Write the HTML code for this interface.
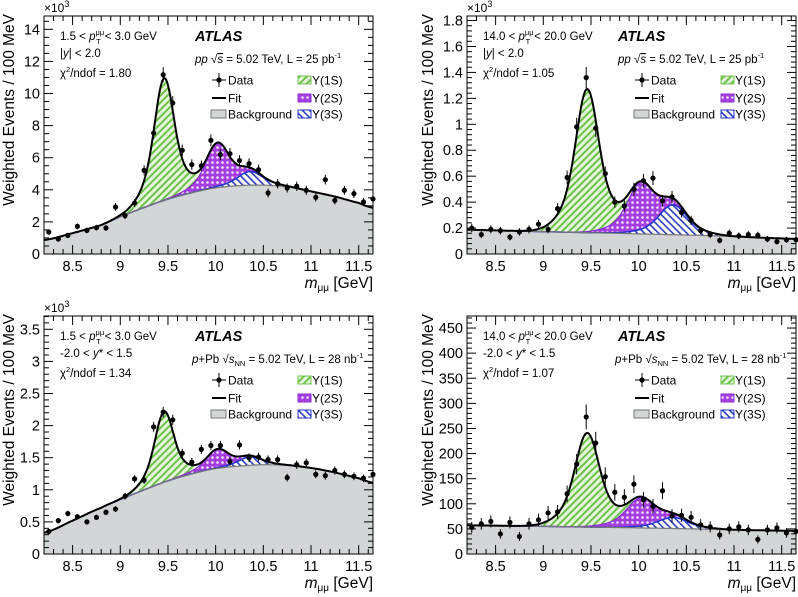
<!DOCTYPE html>
<html><head><meta charset="utf-8">
<style>
html,body{margin:0;padding:0;background:#fff;}
svg{display:block;font-family:"Liberation Sans",Arial,sans-serif;}
</style></head>
<body>
<svg id="chart" width="798" height="597" viewBox="0 0 798 597" xmlns="http://www.w3.org/2000/svg">
<defs>
<pattern id="hatch1" width="5" height="5" patternUnits="userSpaceOnUse" patternTransform="rotate(45)">
<rect width="5" height="5" fill="#e6f6dc"/><rect width="2" height="5" fill="#6cc24a"/></pattern>
<pattern id="hatch2" width="5" height="5" patternUnits="userSpaceOnUse">
<rect width="5" height="5" fill="#a53ee0"/><circle cx="2.5" cy="2.5" r="1.3" fill="#f3e6fb"/></pattern>
<pattern id="hatch3" width="5" height="5" patternUnits="userSpaceOnUse" patternTransform="rotate(-45)">
<rect width="5" height="5" fill="#ffffff"/><rect width="1.6" height="5" fill="#2a3cc0"/></pattern>
</defs>
</svg>
<script>
// ---------- data ----------
const massCenters = [8.25,8.35,8.45,8.55,8.65,8.75,8.85,8.95,9.05,9.15,9.25,9.35,9.45,9.55,9.65,9.75,9.85,9.95,10.05,10.15,10.25,10.35,10.45,10.55,10.65,10.75,10.85,10.95,11.05,11.15,11.25,11.35,11.45,11.55,11.65];
const tlValues = [1.37,0.93,1.16,1.72,1.47,1.64,1.62,2.93,2.39,3.18,5.21,7.54,11.17,9.41,6.46,5.57,5.5,7.08,6.19,6.25,5.82,5.63,5.25,3.80,4.38,4.11,4.22,3.97,3.53,4.63,3.34,3.97,3.76,3.24,3.43];
const trValues = [0.20,0.15,0.19,0.18,0.13,0.17,0.19,0.23,0.19,0.35,0.59,0.98,1.36,0.97,0.62,0.40,0.37,0.50,0.565,0.585,0.41,0.44,0.32,0.26,0.18,0.15,0.105,0.16,0.14,0.15,0.145,0.115,0.095,0.11,0.11];
const blValues = [0.35,0.52,0.63,0.58,0.50,0.57,0.65,0.70,0.90,1.17,1.15,1.98,2.21,2.09,1.57,1.43,1.63,1.69,1.69,1.44,1.70,1.50,1.51,1.47,1.47,1.19,1.39,1.42,1.24,1.22,1.30,1.24,1.21,1.18,1.24];
const brValues = [53,60,65,40,63,35,60,68,82,84,120,179,273,221,154,123,113,139,108,95,126,76,77,73,58,54,38,50,54,48,29,48,52,42,45];
const bgKnots = [8.2,8.5,8.8,9.0,9.25,9.5,9.75,10.0,10.25,10.5,10.75,11.0,11.25,11.5,11.65];
const tlBackground = [0.87,1.3,1.8,2.33,2.9,3.42,3.82,4.12,4.26,4.29,4.18,3.9,3.58,3.18,2.88];
const trBackground = [0.187,0.182,0.176,0.172,0.168,0.164,0.16,0.155,0.151,0.146,0.141,0.134,0.127,0.12,0.116];
const blBackground = [0.33,0.52,0.72,0.85,1.0,1.14,1.25,1.33,1.37,1.39,1.38,1.34,1.27,1.18,1.11];
const brBackground = [57,56.5,55.5,55,54.3,53.6,52.8,52,51.2,50.3,49.3,48,47.3,46.5,46];
const peakMeans = [9.46,10.02,10.36];
const tlPeaks = [7.6,2.7,0.85];
const trPeaks = [1.1,0.36,0.23];
const blPeaks = [1.1,0.29,0.13];
const brPeaks = [186,56,22];
const tlYTicks = ["0","2","4","6","8","10","12","14"];
const trYTicks = ["0","0.2","0.4","0.6","0.8","1","1.2","1.4","1.6","1.8"];
const blYTicks = ["0","0.5","1","1.5","2","2.5","3","3.5"];
const brYTicks = ["0","50","100","150","200","250","300","350","400","450"];
const xTickLabels = ["8.5","9","9.5","10","10.5","11","11.5"];

// ---------- drawing ----------
const svg = document.getElementById('chart');
const NS = 'http://www.w3.org/2000/svg';
function mk(tag, attrs, parent){const e=document.createElementNS(NS,tag);for(const k in attrs)e.setAttribute(k,attrs[k]);(parent||svg).appendChild(e);return e;}

const panels = [
 {id:'pp-low-pt',L:44,R:373,T:16,B:254,ymax:14.83,ytick:2,minor:0.5,ticks:tlYTicks,vals:tlValues,bg:tlBackground,pk:tlPeaks,sig:0.09,err:0.14,
  l1:['1.5 < ','3.0 GeV'],l2:'|y| < 2.0',chi:'1.80',pp:true},
 {id:'pp-high-pt',L:467,R:796,T:16,B:254,ymax:1.835,ytick:0.2,minor:0.04,ticks:trYTicks,vals:trValues,bg:trBackground,pk:trPeaks,sig:0.105,err:0.07,
  l1:['14.0 < ','20.0 GeV'],l2:'|y| < 2.0',chi:'1.05',pp:true},
 {id:'ppb-low-pt',L:44,R:373,T:316,B:554,ymax:3.707,ytick:0.5,minor:0.1,ticks:blYTicks,vals:blValues,bg:blBackground,pk:blPeaks,sig:0.085,err:0.055,
  l1:['1.5 < ','3.0 GeV'],l2:'ystar',chi:'1.34',pp:false},
 {id:'ppb-high-pt',L:467,R:796,T:316,B:554,ymax:474,ytick:50,minor:10,ticks:brYTicks,vals:brValues,bg:brBackground,pk:brPeaks,sig:0.11,err:1.5,
  l1:['14.0 < ','20.0 GeV'],l2:'ystar',chi:'1.07',pp:false}
];
const XMIN=8.2, XMAX=11.65;
const widthRatio=[1,1.15,1.2];

function bgAt(P,x){
  const k=bgKnots, v=P.bg; let i=0;
  while(i<k.length-2 && x>k[i+1]) i++;
  const t=(x-k[i])/(k[i+1]-k[i]);
  const p0=v[Math.max(i-1,0)],p1=v[i],p2=v[i+1],p3=v[Math.min(i+2,v.length-1)];
  return 0.5*((2*p1)+(-p0+p2)*t+(2*p0-5*p1+4*p2-p3)*t*t+(-p0+3*p1-3*p2+p3)*t*t*t);
}
function peakAt(P,j,x){
  const s=P.sig*widthRatio[j], d=(x-peakMeans[j])/s;
  return P.pk[j]*(0.65*Math.exp(-0.5*d*d)+0.35*Math.exp(-0.5*d*d/4));
}

panels.forEach(P=>{
  const g=mk('g',{});
  
  
  const xs=x=>P.L+(x-XMIN)/(XMAX-XMIN)*(P.R-P.L);
  const ys=y=>P.B-y/P.ymax*(P.B-P.T);
  const N=200, grid=[];
  for(let i=0;i<=N;i++) grid.push(XMIN+(XMAX-XMIN)*i/N);
  const layer=(fn)=>grid.map(x=>[xs(x),ys(fn(x))]);
  const area=(top,fill,name)=>{
    const pts=layer(top);
    let d='M'+xs(XMIN)+','+P.B+' '+pts.map(p=>'L'+p[0].toFixed(1)+','+p[1].toFixed(1)).join(' ')+' L'+xs(XMAX)+','+P.B+'Z';
    const e=mk('path',{d:d,fill:fill},g);
    
    
    return pts;
  };
  const f0=x=>bgAt(P,x);
  const f3=x=>f0(x)+peakAt(P,2,x);
  const f2=x=>f3(x)+peakAt(P,1,x);
  const f1=x=>f2(x)+peakAt(P,0,x);
  area(f1,'url(#hatch1)','upsilon-1s-area');
  area(f2,'url(#hatch2)','upsilon-2s-area');
  area(f3,'url(#hatch3)','upsilon-3s-area');
  const bgPts=area(f0,'#d3d6d6','background-area');
  const line=(pts,stroke,w,name)=>{const e=mk('polyline',{points:pts.map(p=>p[0].toFixed(1)+','+p[1].toFixed(1)).join(' '),fill:'none',stroke:stroke,'stroke-width':w},g);
    
    };
  line(layer(f3),'#2233cc',1.5,'upsilon-3s-line');
  line(layer(f2),'#8a2bd0',1.2,'upsilon-2s-line');
  line(bgPts,'#777',1.2,'background-line');
  line(layer(f1),'#000',2,'fit-line');
  P.vals.forEach((v,i)=>{
    const cx=xs(massCenters[i]), cy=ys(v), e=P.err*Math.sqrt(v);
    const pg=mk('g',{},g);
    
    
    mk('line',{x1:cx,x2:cx,y1:ys(v+e),y2:ys(Math.max(v-e,0)),stroke:'#000','stroke-width':1},pg);
    mk('circle',{cx:cx,cy:cy,r:2.6,fill:'#000'},pg);
  });
  const fr=mk('rect',{x:P.L,y:P.T,width:P.R-P.L,height:P.B-P.T,fill:'none',stroke:'#000','stroke-width':1},g);
  
  
  for(let k=0;k<=35;k++){
    const xv=8.2+k*0.1; if(xv>XMAX+1e-6) break;
    const major=Math.abs(xv*2-Math.round(xv*2))<1e-6;
    const len=major?9:5, X=xs(xv);
    mk('line',{x1:X,x2:X,y1:P.B,y2:P.B-len,stroke:'#000','stroke-width':1},g);
    mk('line',{x1:X,x2:X,y1:P.T,y2:P.T+len,stroke:'#000','stroke-width':1},g);
  }
  xTickLabels.forEach(l=>{
    const t=mk('text',{x:xs(parseFloat(l)),y:P.B+17,'text-anchor':'middle','font-size':14.5},g);
    t.textContent=l;
    
    
  });
  for(let yv=0; yv<=P.ymax+1e-9; yv+=P.minor){
    const major=Math.abs(yv/P.ytick-Math.round(yv/P.ytick))<1e-6;
    const len=major?9:5, Y=ys(yv);
    mk('line',{x1:P.L,x2:P.L+len,y1:Y,y2:Y,stroke:'#000','stroke-width':1},g);
    mk('line',{x1:P.R,x2:P.R-len,y1:Y,y2:Y,stroke:'#000','stroke-width':1},g);
  }
  P.ticks.forEach((l,i)=>{
    const t=mk('text',{x:P.L-4,y:ys(i*P.ytick)+5,'text-anchor':'end','font-size':14.5},g);
    t.textContent=l;
    
    
  });
  if(P.id!=='ppb-high-pt'){
    const ex=mk('text',{x:P.L,y:P.T-4,'font-size':12},g);
    ex.innerHTML='×10<tspan dy="-5" font-size="9">3</tspan>';
    
    
  }
  const yt=mk('text',{transform:`translate(${P.L-(P.L>400?34:30)},${P.T-2}) rotate(-90)`,'text-anchor':'end','font-size':15.5},g);
  yt.textContent='Weighted Events / 100 MeV';
  
  
  const xt=mk('text',{x:P.R,y:P.B+34,'text-anchor':'end','font-size':15.5},g);
  xt.innerHTML='<tspan font-style="italic">m</tspan><tspan font-size="10" dy="3">μμ</tspan><tspan dy="-3"> [GeV]</tspan>';
  
  
  const L=P.L, T=P.T;
  const i1=mk('text',{x:L+16,y:T+24,'font-size':11.5},g);
  i1.innerHTML=P.l1[0]+'<tspan font-style="italic">p</tspan><tspan font-size="7.5" dy="-5">μμ</tspan><tspan font-size="7.5" dx="-8" dy="9">T</tspan><tspan dy="-4" dx="4">&lt; '+P.l1[1]+'</tspan>';
  
  
  const i2=mk('text',{x:L+16,y:T+41,'font-size':11.5},g);
  i2.innerHTML=P.l2==='ystar'?'-2.0 &lt; <tspan font-style="italic">y</tspan>* &lt; 1.5':'|<tspan font-style="italic">y</tspan>| &lt; 2.0';
  
  
  const i3=mk('text',{x:L+16,y:T+61,'font-size':11.5},g);
  i3.innerHTML='χ<tspan font-size="7.5" dy="-5">2</tspan><tspan dy="5">/ndof = '+P.chi+'</tspan>';
  
  
  const at=mk('text',{x:L+151,y:T+25,'font-size':14.5,'font-weight':'bold','font-style':'italic'},g);
  at.textContent='ATLAS';
  
  
  const en=mk('text',{x:L+(P.pp?151:148),y:T+47,'font-size':11.5},g);
  en.innerHTML=P.pp?'<tspan font-style="italic">pp</tspan>  √<tspan text-decoration="overline" font-style="italic">s</tspan> = 5.02 TeV, L = 25 pb<tspan font-size="7.5" dy="-5">-1</tspan>'
                  :'<tspan font-style="italic">p</tspan>+Pb √<tspan font-style="italic">s</tspan><tspan font-size="7.5" dy="3">NN</tspan><tspan dy="-3"> = 5.02 TeV, L = 28 nb</tspan><tspan font-size="7.5" dy="-5">-1</tspan>';
  
  
  const lg=mk('g',{},g);
  
  
  const rows=[T+64,T+82,T+98];
  const mx=L+175;
  mk('line',{x1:mx-7,x2:mx+7,y1:rows[0],y2:rows[0],stroke:'#000'},lg);
  mk('line',{x1:mx,x2:mx,y1:rows[0]-7,y2:rows[0]+7,stroke:'#000'},lg);
  mk('circle',{cx:mx,cy:rows[0],r:2.6},lg);
  mk('line',{x1:mx-7,x2:mx+7,y1:rows[1],y2:rows[1],stroke:'#000','stroke-width':2},lg);
  mk('rect',{x:mx-8,y:rows[2]-4,width:15,height:8,fill:'#d3d6d6',stroke:'#777'},lg);
  ['Data','Fit','Background'].forEach((s,i)=>{const t=mk('text',{x:mx+9,y:rows[i]+4.5,'font-size':12},lg);t.textContent=s;
    
    });
  ['url(#hatch1)','url(#hatch2)','url(#hatch3)'].forEach((f,i)=>{
    mk('rect',{x:L+254,y:rows[i]-4,width:13,height:8,fill:f,stroke:['#6cc24a','#8a2bd0','#2233cc'][i]},lg);
    const t=mk('text',{x:L+268,y:rows[i]+4.5,'font-size':12},lg);t.textContent='Υ('+(i+1)+'S)';
    
    
  });
});
</script>
</body></html>
